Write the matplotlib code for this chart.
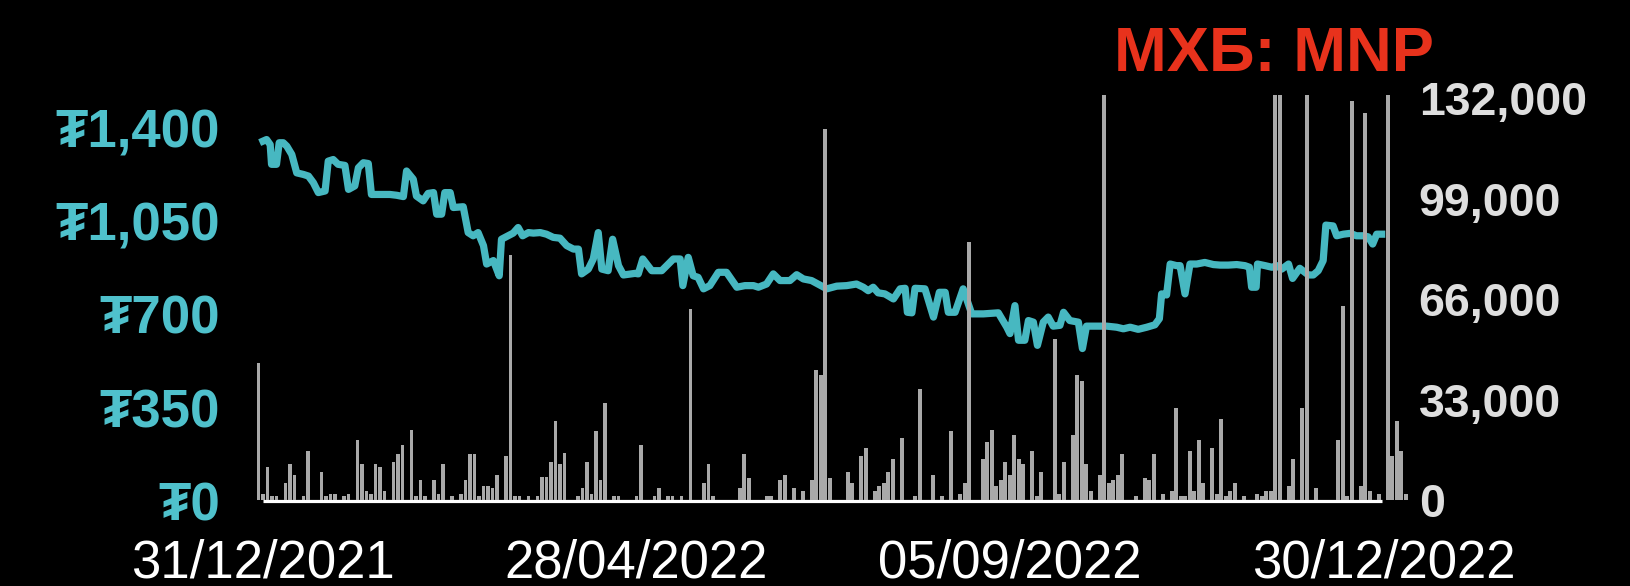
import matplotlib
matplotlib.use('Agg')
import matplotlib.pyplot as plt

# ---------------- data ----------------
date_labels = ['31/12/2021', '28/04/2022', '05/09/2022', '30/12/2022']
date_tick_sessions = [0, 83, 166, 249]

price_ticks = [0, 350, 700, 1050, 1400]
price_tick_labels = ['₮0', '₮350', '₮700', '₮1,050', '₮1,400']
volume_ticks = [0, 33000, 66000, 99000, 132000]

# trading-session position and closing price (MNT)
line_session = [
    0.0, 0.8, 1.6, 1.9, 3.0, 3.6, 4.5, 5.3, 6.4, 7.5,
    9.0, 10.1, 11.2, 12.3, 13.8, 14.5, 15.6, 16.7, 18.2, 19.0,
    20.4, 21.2, 22.3, 23.4, 24.1, 25.3, 26.7, 28.2, 29.7, 31.2,
    31.9, 33.4, 34.1, 35.6, 36.7, 37.9, 38.6, 39.7,
    40.4, 41.6, 42.3, 44.5, 45.6, 46.7, 47.8, 49.0, 49.7, 51.2,
    52.5, 53.0, 54.5, 55.6, 56.7, 57.7, 59.0, 60.1, 61.6, 63.0,
    64.5, 66.0, 67.5, 69.0, 70.1, 70.8, 72.3, 73.4, 74.5, 75.3,
    76.7, 77.7, 79.0, 80.1, 82.7,
    83.4, 84.4, 86.4, 88.6, 91.2, 92.7, 93.3, 94.5, 95.6, 96.7,
    97.9, 99.3, 101.2, 103.0, 105.3, 107.1, 109.0, 110.1, 111.9, 113.4,
    114.9, 117.1, 118.6, 120.1, 121.9,
    125.3, 127.5, 129.7, 131.9, 133.4, 134.5, 135.6, 136.7, 138.2, 140.1,
    141.6, 142.7, 143.2, 144.2, 144.9, 147.1, 149.0, 150.3, 151.6, 152.3,
    153.8, 155.6, 157.5, 160.1, 163.4, 165.3, 166.0, 167.1,
    167.9, 169.3, 170.1, 171.2, 172.1, 173.4, 174.5, 175.6, 177.1, 177.9,
    179.3, 181.2, 182.1, 183.0, 185.3, 187.5, 189.7, 191.2, 192.7, 194.5,
    196.4, 198.2, 199.2, 199.7, 200.8, 201.6, 203.0, 203.8, 204.9, 206.0,
    207.5, 209.3,
    211.2, 212.7, 214.5, 216.4, 218.2, 219.2, 219.7, 220.7, 221.0, 222.7,
    224.2, 225.3, 226.4, 227.9, 228.8, 230.4, 232.3, 233.4, 234.5, 235.6,
    236.2, 237.8, 238.6, 240.1, 241.6, 243.0, 244.5, 245.6, 246.6, 247.5,
    248.6,
]
line_price = [
    1350, 1356, 1337, 1263, 1263, 1344, 1344, 1331, 1300, 1231,
    1225, 1219, 1194, 1157, 1163, 1275, 1281, 1263, 1259, 1169,
    1182, 1250, 1269, 1266, 1150, 1150, 1150, 1150, 1147, 1142,
    1238, 1207, 1144, 1126, 1154, 1157, 1076, 1076,
    1157, 1157, 1101, 1104, 1007, 995, 1007, 958, 889, 902,
    845, 982, 995, 1005, 1026, 995, 1007, 1005, 1007, 1001,
    989, 986, 958, 945, 945, 852, 870, 908, 1007, 870,
    864, 982, 883, 848, 854,
    852, 908, 864, 864, 908, 908, 808, 914, 845, 839,
    796, 808, 858, 858, 802, 808, 808, 802, 814, 852,
    827, 827, 849, 833, 827,
    796, 806, 808, 814, 802, 789, 802, 781, 777, 758,
    796, 798, 708, 706, 798, 796, 690, 783, 783, 708,
    708, 796, 702, 702, 706, 652, 628, 733,
    603, 603, 677, 671, 584, 671, 690, 656, 659, 708,
    677, 671, 572, 656, 656, 656, 652, 646, 652, 644,
    652, 661, 684, 777, 773, 889, 883, 883, 777, 889,
    889, 895,
    887, 885, 885, 887, 883, 877, 802, 802, 889, 883,
    877, 883, 870, 889, 835, 873, 848, 848, 864, 902,
    1035, 1032, 995, 1001, 1004, 995, 995, 991, 964, 1001,
    1001,
]

# trading volume per session (shares)
bar_session = [
    -1, 0, 1, 2, 3, 5, 6, 7, 9, 10, 13, 14, 15, 16, 18, 19, 21, 22, 23, 24,
    25, 26, 27, 29, 30, 31, 33, 34, 35, 36, 38, 39, 40,
    42, 44, 45, 46, 47, 48, 49, 50, 51, 52, 54, 55, 56, 57, 59, 61, 62,
    63, 64, 65, 66, 67, 70, 71, 72, 73, 74, 75, 76, 78, 79,
    83, 84, 87, 88, 90, 91, 93, 95, 98, 99, 100, 106, 107, 108, 112, 113,
    115, 116, 118, 120, 122, 123, 124,
    125, 126, 130, 131, 133, 134, 136, 137, 138, 139, 140, 142, 145, 146,
    149, 151, 153, 155, 156, 157, 160, 161, 162, 163, 164, 165, 166,
    167, 168, 169, 171, 172, 173, 176, 177, 178, 180, 181, 182, 183, 184,
    186, 187, 188, 189, 190, 191, 194, 196, 197, 198, 200, 202, 203, 204,
    205, 206, 207, 208,
    209, 211, 212, 213, 214, 215, 216, 218, 221, 222, 223, 224, 225, 226,
    228, 229, 231, 232, 234, 239, 240, 241, 242, 244, 245, 246, 248, 250,
    251, 252, 253, 254,
]
bar_volume = [
    45100, 1900, 10900, 1300, 1300, 5700, 11800, 8300, 1300, 16200, 9300, 1300, 1900, 1900, 1300, 1900, 19800, 11800, 3000, 1900,
    11800, 10900, 3000, 12600, 15100, 17900, 23100, 1300, 6600, 1300, 6600, 1900, 11800,
    1300, 1900, 6600, 15100, 15100, 1300, 4600, 4600, 4100, 8300, 14500, 80500, 1300, 1300, 1300, 1300, 7400,
    7400, 12600, 25800, 11800, 15300, 1300, 3900, 12600, 1900, 22600, 6600, 31900, 1300, 1300,
    1300, 17900, 1300, 3900, 1300, 1300, 1300, 62700, 5600, 11800, 1300, 3900, 15100, 7200, 1300, 1300,
    6500, 8200, 3900, 3000, 6500, 42600, 40900,
    121800, 7200, 9300, 5600, 14500, 17100, 3000, 4600, 5600, 9300, 13400, 20400, 1300, 36300,
    8300, 1300, 22500, 1900, 5500, 84700, 13400, 18900, 23000, 4600, 6600, 12600, 8300,
    21500, 13400, 11800, 16200, 1300, 9300, 53000, 1900, 12600, 21500, 40900, 39000, 11800, 3000,
    8300, 135000, 5500, 6600, 8300, 15100, 1300, 7200, 6500, 15100, 1900, 3000, 30300, 1300,
    1300, 16200, 3000, 19700,
    5500, 17100, 1900, 26600, 1300, 3000, 5500, 1300, 1900, 1300, 3000, 3000, 135000, 135000,
    4600, 13400, 30300, 135000, 3900, 19700, 63700, 1300, 131200, 4600, 127000, 3000, 1900, 135000,
    14500, 25800, 16200, 1900,
]

# ---------------- style ----------------
TEAL_LINE = '#47B8C1'
TEAL_TEXT = '#4FC1CC'
GREY_BAR = '#A9A9A9'
GREY_TEXT = '#DEDEDE'
RED = '#E8321C'

plt.rcParams['font.family'] = ['Liberation Sans', 'DejaVu Sans']

fig = plt.figure(figsize=(16.3, 5.86), dpi=100, facecolor='black')
ax = fig.add_axes([0.1572, 0.14334, 0.7095, 0.6945])
ax.set_facecolor('black')

ax.plot(line_session, line_price, color=TEAL_LINE, lw=5.2,
        solid_joinstyle='round', zorder=2)
ax.plot([line_session[0], line_session[-1]], [0, 0], color='white',
        lw=2.3, solid_capstyle='butt', clip_on=False, zorder=1)

ax.set_xlim(-1.5, 255.5)
ax.set_ylim(-3.7, 1523)
ax.set_yticks(price_ticks)
ax.set_yticklabels(price_tick_labels, fontweight='bold')
ax.set_xticks(date_tick_sessions)
ax.set_xticklabels(date_labels)
ax.tick_params(axis='y', length=0, pad=26, labelsize=38, labelcolor=TEAL_TEXT)
ax.tick_params(axis='x', length=0, pad=26.5, labelsize=38, labelcolor='white')
for s in ax.spines.values():
    s.set_visible(False)

ax2 = ax.twinx()
ax2.bar(bar_session, bar_volume, width=0.88, color=GREY_BAR, linewidth=0,
        zorder=3)
ax2.set_ylim(-657, 133000)
ax2.set_yticks(volume_ticks)
ax2.set_yticklabels([f'{v:,}' for v in volume_ticks], fontweight='bold')
ax2.tick_params(axis='y', length=0, pad=4.3, labelsize=33.5, labelcolor=GREY_TEXT)
for s in ax2.spines.values():
    s.set_visible(False)

fig.text(1114 / 1630, 1 - 71 / 586, 'МХБ: MNP', color=RED, fontsize=45.5,
         fontweight='bold', ha='left', va='baseline')

fig.savefig('out.png', dpi=100, facecolor='black')
